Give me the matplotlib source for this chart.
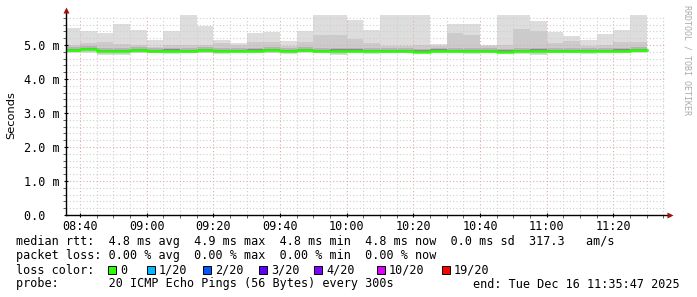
import matplotlib
matplotlib.use("Agg")
import matplotlib.pyplot as plt
import matplotlib.dates as mdates
from matplotlib.ticker import MultipleLocator, FuncFormatter
from matplotlib.patches import Rectangle
import pandas as pd

# 5 minute bins, 08:35 .. 11:25
bin_start = "2025-12-16 08:35"
n_bins = 35
view_start = "2025-12-16 08:35:47"
view_end = "2025-12-16 11:35:47"

# smoke (ms): lowest ping, top of inner smoke, highest ping
rtt_lo = [4.76, 4.77, 4.71, 4.72, 4.75, 4.76, 4.74, 4.76, 4.75, 4.73, 4.77, 4.76,
          4.75, 4.73, 4.76, 4.75, 4.72, 4.76, 4.74, 4.76, 4.77, 4.75, 4.76, 4.75,
          4.74, 4.76, 4.75, 4.73, 4.72, 4.75, 4.76, 4.74, 4.75, 4.75, 4.76]
rtt_mid = [5.00, 5.05, 5.10, 5.02, 5.00, 4.95, 5.00, 5.00, 5.00, 5.05, 5.00, 5.08,
           5.10, 4.98, 5.10, 5.29, 5.29, 5.17, 5.05, 4.97, 4.97, 5.00, 4.97, 5.34,
           5.29, 4.96, 5.00, 5.46, 5.41, 5.05, 5.12, 4.97, 5.00, 5.08, 5.10]
rtt_hi = [5.49, 5.41, 5.36, 5.62, 5.44, 5.15, 5.41, 6.20, 5.57, 5.15, 5.06, 5.36,
          5.39, 5.12, 5.41, 6.40, 6.30, 5.74, 5.44, 6.50, 6.20, 6.30, 5.02, 5.61,
          5.62, 4.99, 6.40, 6.10, 5.71, 5.39, 5.26, 5.15, 5.32, 5.44, 6.20]
rtt_median = [4.84, 4.88, 4.82, 4.82, 4.84, 4.81, 4.83, 4.81, 4.84, 4.82, 4.82, 4.83,
              4.85, 4.82, 4.84, 4.82, 4.83, 4.83, 4.82, 4.81, 4.81, 4.80, 4.83, 4.82,
              4.82, 4.81, 4.80, 4.82, 4.83, 4.81, 4.81, 4.82, 4.82, 4.83, 4.84]

loss_labels = ["0", "1/20", "2/20", "3/20", "4/20", "10/20", "19/20"]
loss_colors = ["#26ff00", "#00b8ff", "#0059ff", "#5e00ff", "#7e00ff", "#dd00ff", "#ff0000"]
loss_box_x = [108, 147, 203, 259, 314, 377, 442]

W, H = 697, 297
MONO = "DejaVu Sans Mono"


def px(x, y):
    return x / W, 1 - y / H


times = pd.date_range(bin_start, periods=n_bins + 1, freq="5min")


def ext(v):
    return list(v) + [v[-1]]


fig = plt.figure(figsize=(W / 100, H / 100), dpi=100)
fig.patch.set_facecolor("white")
ax = fig.add_axes([66 / W, (H - 215) / H, 600 / W, 200 / H])

lo = ext(rtt_lo)
mid = ext(rtt_mid)
hi = ext(rtt_hi)
med = ext(rtt_median)
ax.fill_between(times, lo, hi, step="post", color="#dddddd", lw=0, zorder=1)
ax.fill_between(times, [v + 0.02 for v in lo], mid, step="post", color="#cbcbcb", lw=0, zorder=1.1)
ax.fill_between(times, [m - 0.04 for m in med], [m + 0.09 for m in med], step="post",
                color="#b4b4b4", lw=0, zorder=1.2)
ax.fill_between(times, [m - 0.025 for m in med], [m + 0.04 for m in med], step="post",
                color="#8c8c8c", lw=0, zorder=1.3)
ax.step(times, med, where="post", color=loss_colors[0], lw=1.8, zorder=3)

ax.set_xlim(pd.Timestamp(view_start), pd.Timestamp(view_end))
ax.set_ylim(0, 200 / 34)

ax.xaxis.set_major_locator(mdates.MinuteLocator(byminute=[0, 20, 40]))
ax.xaxis.set_minor_locator(mdates.MinuteLocator(byminute=range(0, 60, 5)))
ax.xaxis.set_major_formatter(mdates.DateFormatter("%H:%M"))
ax.yaxis.set_major_locator(MultipleLocator(1.0))
ax.yaxis.set_minor_locator(MultipleLocator(0.2))
ax.yaxis.set_major_formatter(FuncFormatter(
    lambda v, p: "0.0\u00a0\u00a0" if abs(v) < 1e-9 else f"{v:.1f} m"))

ax.set_axisbelow(False)
ax.grid(which="minor", color="#cfcfcf", lw=0.8, linestyle=(0, (1, 2)), zorder=2)
ax.grid(which="major", color="#e3a9a9", lw=0.8, linestyle=(0, (1, 2)), zorder=2.1)

for s in ["top", "right", "bottom", "left"]:
    ax.spines[s].set_visible(False)
ax.tick_params(which="major", length=3, width=0.8, direction="inout", pad=3,
               labelsize=8.5, colors="black")
ax.tick_params(axis="x", which="major", pad=2)
ax.tick_params(which="minor", length=2, width=0.6, direction="out", colors="#444444")
for lab in ax.get_xticklabels() + ax.get_yticklabels():
    lab.set_family(MONO)

# axes with arrows
ax.plot([0, 1.0067], [0, 0], transform=ax.transAxes, color="black", lw=1, clip_on=False, zorder=5)
ax.plot([0, 0], [0, 1.025], transform=ax.transAxes, color="black", lw=1, clip_on=False, zorder=5)
ax.plot([1.0067], [0], transform=ax.transAxes, marker=">", ms=4, color="#a01010",
        clip_on=False, zorder=6, mec="none")
ax.plot([0], [1.025], transform=ax.transAxes, marker="^", ms=4, color="#a01010",
        clip_on=False, zorder=6, mec="none")

fig.text(*px(11, 115), "Seconds", rotation=90, ha="center", va="center",
         fontsize=8.2, family="DejaVu Sans")
fig.text(*px(687, 60), "RRDTOOL / TOBI OETIKER", rotation=270, ha="center", va="center",
         fontsize=6, family=MONO, color="#aaaaaa")

fs = 8.5
fig.text(*px(16, 241), "median rtt:  4.8 ms avg  4.9 ms max  4.8 ms min  4.8 ms now  0.0 ms sd  317.3   am/s",
         ha="left", va="center", fontsize=fs, family=MONO)
fig.text(*px(16, 255.5), "packet loss: 0.00 % avg  0.00 % max  0.00 % min  0.00 % now",
         ha="left", va="center", fontsize=fs, family=MONO)
fig.text(*px(16, 270), "loss color:", ha="left", va="center", fontsize=fs, family=MONO)
for bx, lab, col in zip(loss_box_x, loss_labels, loss_colors):
    x0, y0 = px(bx, 274)
    fig.add_artist(Rectangle((x0, y0), 8 / W, 8 / H, transform=fig.transFigure,
                             facecolor=col, edgecolor="black", lw=0.7))
    fig.text(*px(bx + 12, 270), lab, ha="left", va="center", fontsize=fs, family=MONO)
fig.text(*px(16, 284), "probe:       20 ICMP Echo Pings (56 Bytes) every 300s",
         ha="left", va="center", fontsize=fs, family=MONO)
fig.text(*px(680, 284), "end: Tue Dec 16 11:35:47 2025",
         ha="right", va="center", fontsize=fs, family=MONO)

fig.savefig("out.png", dpi=100)
